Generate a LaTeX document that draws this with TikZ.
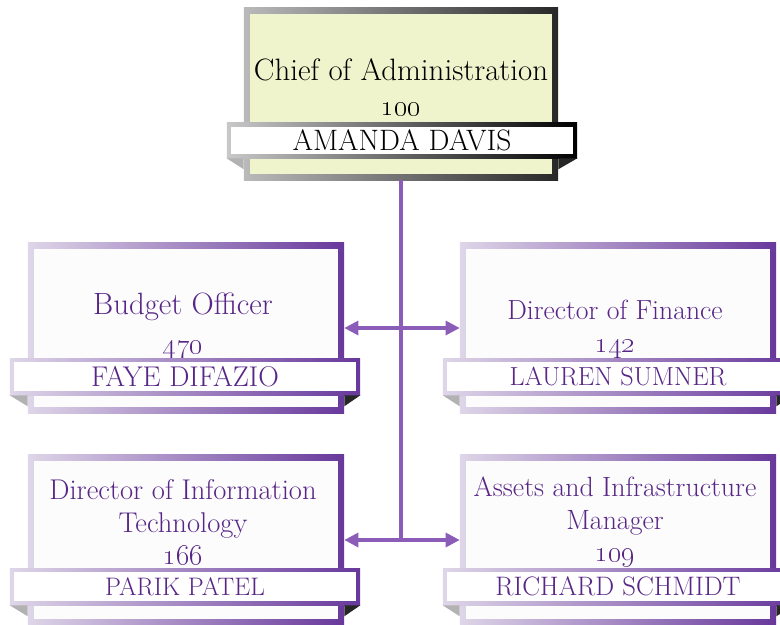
\documentclass[tikz,border=0pt]{standalone}
\usepackage{tikz}
\usetikzlibrary{arrows.meta,calc}

\definecolor{topfill}{RGB}{240,244,204}
\definecolor{graylight}{RGB}{200,200,200}
\definecolor{graydark}{RGB}{40,40,40}
\definecolor{lavlight}{RGB}{222,214,232}
\definecolor{purpdark}{RGB}{104,56,156}
\definecolor{boxfill}{RGB}{252,252,252}
\definecolor{textpurple}{RGB}{88,38,134}
\definecolor{linkpurple}{RGB}{139,92,184}

\tikzset{
  inset/.style 2 args={path picture={\fill[#1] ([shift={(#2,-#2)}]path picture bounding box.north west) rectangle ([shift={(-#2,#2)}]path picture bounding box.south east);}},
  topframe/.style={inner sep=0pt, left color=graylight!80!gray, right color=graydark, inset={topfill}{0.15cm}, minimum width=7.85cm, minimum height=4.3cm},
  posframe/.style={inner sep=0pt, left color=lavlight, right color=purpdark, inset={boxfill}{0.15cm}, minimum width=7.9cm, minimum height=4.25cm},
  topbar/.style={inner sep=0pt, left color=graylight, right color=black, inset={white}{0.1cm}, minimum width=8.75cm, minimum height=0.875cm, font=\fontsize{21}{22}\selectfont},
  namebar/.style={inner sep=0pt, left color=lavlight, right color=purpdark, inset={white}{0.1cm}, minimum width=8.75cm, minimum height=0.925cm, text=textpurple},
  title/.style={inner sep=0pt, align=center, text=textpurple},
  link/.style={draw=linkpurple, line width=2.2pt, {Triangle[length=10pt,width=10pt]}-{Triangle[length=10pt,width=10pt]}},
  stem/.style={draw=linkpurple, line width=2.2pt},
}

\begin{document}
\begin{tikzpicture}[x=0.025cm,y=-0.025cm]
\useasboundingbox (0,0) rectangle (780,624);
\clip (0,0) rectangle (780,624);

% boxes
\node[topframe] (chief) at (401,94) {};
\node[posframe] (budget) at (186,328) {};
\node[posframe] (finance) at (618,328) {};
\node[posframe] (itdir) at (186,540) {};
\node[posframe] (assets) at (618,540) {};

% connectors
\coordinate (jlow) at (chief.south |- itdir.east);
\draw[stem] (chief.south) -- (jlow);
\draw[link] (budget.east) -- (finance.west);
\draw[link] (itdir.east) -- (assets.west);

% titles
\node[title, text=black, font=\fontsize{22}{25}\selectfont] (chieftitle) at (401,87) {Chief of Administration\\\oldstylenums{100}};
\node[title, font=\fontsize{21.9}{28}\selectfont] (budgettitle) at (183,326) {Budget Officer\\\oldstylenums{470}};
\node[title, font=\fontsize{19.7}{24}\selectfont] (financetitle) at (615,329) {Director of Finance\\\oldstylenums{142}};
\node[title, font=\fontsize{20.3}{23.4}\selectfont] (itdirtitle) at (183,522) {Director of Information\\Technology\\\oldstylenums{166}};
\node[title, font=\fontsize{19.8}{23.4}\selectfont] (assetstitle) at (615,522) {Assets and Infrastructure\\Manager\\\oldstylenums{109}};

% name bars
\node[topbar] (chiefname) at (402,140.5) {AMANDA DAVIS};
\node[namebar, font=\fontsize{20.3}{21}\selectfont] (budgetname) at (185,376.5) {FAYE DIFAZIO};
\node[namebar, font=\fontsize{18.6}{20}\selectfont] (financename) at (618,376.5) {LAUREN SUMNER};
\node[namebar, font=\fontsize{18}{20}\selectfont] (itdirname) at (185,586.5) {PARIK PATEL};
\node[namebar, font=\fontsize{19}{20}\selectfont] (assetsname) at (618,586.5) {RICHARD SCHMIDT};

% ribbon folds
\foreach \b/\n in {chief/chiefname, budget/budgetname, finance/financename, itdir/itdirname, assets/assetsname} {
  \fill[gray!60] (\n.south west) -- (\b.west |- \n.south) -- ++(0,11) -- cycle;
  \fill[black!85] (\n.south east) -- (\b.east |- \n.south) -- ++(0,11) -- cycle;
}
\end{tikzpicture}
\end{document}
